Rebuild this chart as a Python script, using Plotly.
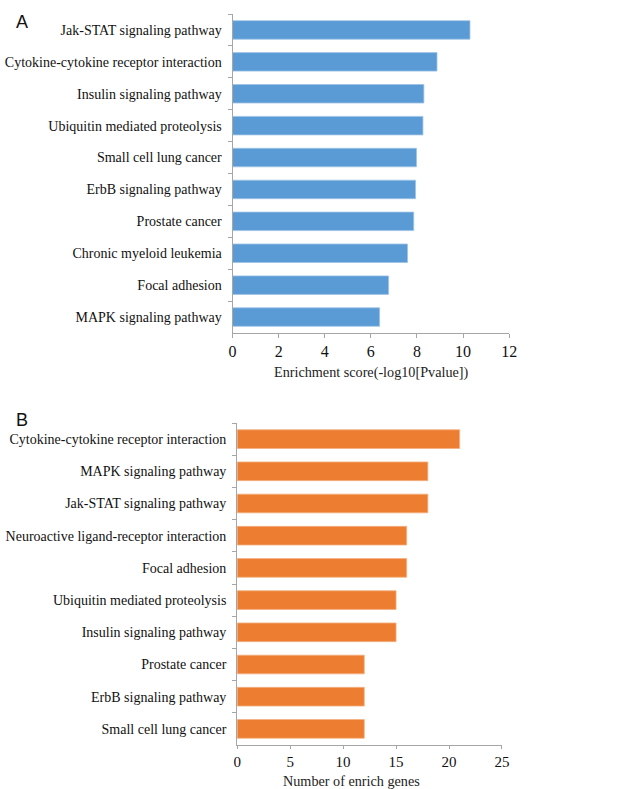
import plotly.graph_objects as go

cats_a = ["Jak-STAT signaling pathway", "Cytokine-cytokine receptor interaction",
          "Insulin signaling pathway", "Ubiquitin mediated proteolysis",
          "Small cell lung cancer", "ErbB signaling pathway", "Prostate cancer",
          "Chronic myeloid leukemia", "Focal adhesion", "MAPK signaling pathway"]
vals_a = [10.3, 8.87, 8.3, 8.26, 7.98, 7.94, 7.86, 7.59, 6.77, 6.38]

cats_b = ["Cytokine-cytokine receptor interaction", "MAPK signaling pathway",
          "Jak-STAT signaling pathway", "Neuroactive ligand-receptor interaction",
          "Focal adhesion", "Ubiquitin mediated proteolysis", "Insulin signaling pathway",
          "Prostate cancer", "ErbB signaling pathway", "Small cell lung cancer"]
vals_b = [21, 18, 18, 16, 16, 15, 15, 12, 12, 12]

xticks_a = [0, 2, 4, 6, 8, 10, 12]
xticks_b = [0, 5, 10, 15, 20, 25]

FONT = "Liberation Serif"
W, H = 628, 789
axis_col = "#a6a6a6"

fig = go.Figure()
fig.add_trace(go.Bar(x=vals_a, y=cats_a, orientation="h", xaxis="x", yaxis="y",
                     hoverinfo="skip",
                     marker=dict(color="#5b9bd5", line=dict(color="#9dc3e6", width=0.8))))
fig.add_trace(go.Bar(x=vals_b, y=cats_b, orientation="h", xaxis="x2", yaxis="y2",
                     hoverinfo="skip",
                     marker=dict(color="#ed7d31", line=dict(color="#f4b183", width=0.8))))

def xax(domain, rng, ticks, anchor, fs, tl):
    return dict(domain=domain, range=rng, tickvals=ticks, anchor=anchor,
                showgrid=False, zeroline=False, showline=True, linecolor=axis_col,
                linewidth=1, ticks="outside", tickcolor=axis_col, ticklen=tl,
                tickfont=dict(family=FONT, size=fs, color="#111"), fixedrange=True)

def yax(domain, cats, anchor):
    return dict(domain=domain, categoryorder="array", categoryarray=cats,
                autorange="reversed", anchor=anchor, showgrid=False, zeroline=False,
                showline=True, linecolor=axis_col, linewidth=1, ticks="outside",
                tickson="boundaries", tickcolor=axis_col, ticklen=4,
                tickfont=dict(family=FONT, size=14, color="#111"), ticksuffix="  ")

fig.update_layout(
    width=W, height=H, margin=dict(l=0, r=0, t=0, b=0),
    paper_bgcolor="white", plot_bgcolor="white", showlegend=False,
    bargap=0.42,
    xaxis=xax([233 / W, 515 / W], [0, 12], xticks_a, "y", 16, 4),
    yaxis=yax([1 - 333 / H, 1 - 14 / H], cats_a, "x"),
    xaxis2=xax([237.7 / W, 507.7 / W], [0, 25], xticks_b, "y2", 15, 3),
    yaxis2=yax([1 - 745 / H, 1 - 423 / H], cats_b, "x2"),
    annotations=[
        dict(text="A", x=10 / W, y=1 - 21.5 / H, xref="paper", yref="paper",
             xanchor="left", yanchor="middle", showarrow=False,
             font=dict(family="Liberation Sans", size=18, color="#111")),
        dict(text="B", x=10 / W, y=1 - 419.5 / H, xref="paper", yref="paper",
             xanchor="left", yanchor="middle", showarrow=False,
             font=dict(family="Liberation Sans", size=18, color="#111")),
        dict(text="Enrichment score(-log10[Pvalue])", x=374 / W,
             y=1 - 372 / H, xref="paper", yref="paper", xanchor="center",
             yanchor="middle", showarrow=False,
             font=dict(family=FONT, size=14.2, color="#222")),
        dict(text="Number of enrich genes", x=354 / W,
             y=1 - 780.5 / H, xref="paper", yref="paper", xanchor="center",
             yanchor="middle", showarrow=False,
             font=dict(family=FONT, size=14.2, color="#222")),
    ],
)

fig.write_html("out.html", config={"displayModeBar": False},
               post_script="document.body.style.margin='0';document.body.style.overflow='hidden';")
